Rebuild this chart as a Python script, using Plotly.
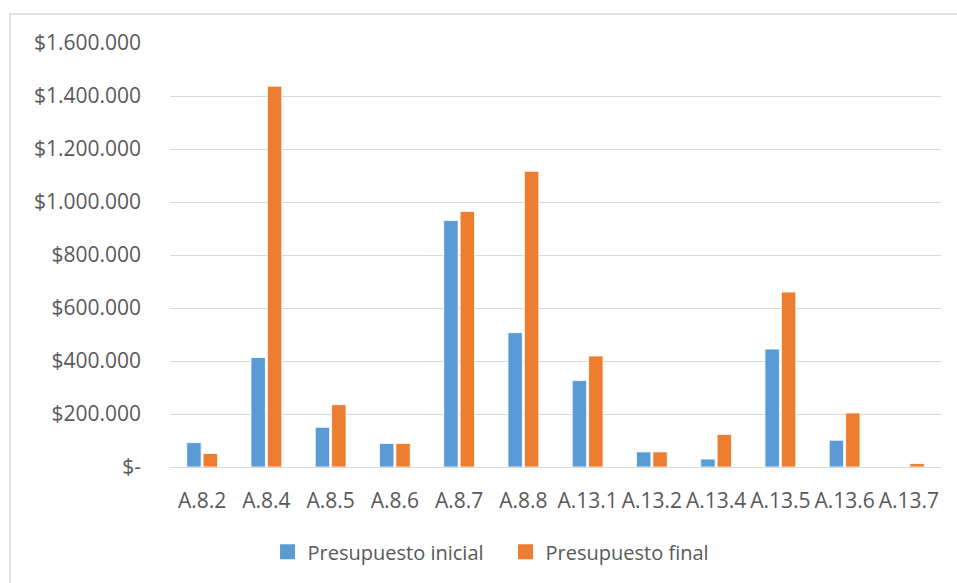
import plotly.graph_objects as go

categories = ["A.8.2", "A.8.4", "A.8.5", "A.8.6", "A.8.7", "A.8.8",
              "A.13.1", "A.13.2", "A.13.4", "A.13.5", "A.13.6", "A.13.7"]
presupuesto_inicial = [92000, 413000, 150000, 89000, 930000, 507000,
                       326000, 57000, 30000, 445000, 101000, 0]
presupuesto_final = [51000, 1437000, 235000, 89000, 964000, 1116000,
                     419000, 57000, 123000, 660000, 204000, 13000]
y_tick_values = [0, 200000, 400000, 600000, 800000, 1000000, 1200000, 1400000, 1600000]
y_tick_labels = ["$-", "$200.000", "$400.000", "$600.000", "$800.000",
                 "$1.000.000", "$1.200.000", "$1.400.000", "$1.600.000"]

BLUE = "#5B9BD5"
ORANGE = "#ED7D31"
TEXT = "#595959"
GRID = "#D9D9D9"
FONT = "'Open Sans', sans-serif"
FS = 21

fig = go.Figure()
fig.add_trace(go.Bar(x=categories, y=presupuesto_inicial, name="Presupuesto inicial",
                     showlegend=False,
                     marker=dict(color=BLUE, line=dict(color="white", width=0.8))))
fig.add_trace(go.Bar(x=categories, y=presupuesto_final, name="Presupuesto final",
                     showlegend=False,
                     marker=dict(color=ORANGE, line=dict(color="white", width=0.8))))
# legend entries with square swatches
for name, color in [("Presupuesto inicial", BLUE), ("Presupuesto final", ORANGE)]:
    fig.add_trace(go.Scatter(x=[None], y=[None], mode="markers", name=name,
                             marker=dict(symbol="square", size=15, color=color)))

fig.update_layout(
    width=957, height=583,
    margin=dict(l=170, r=16, t=43, b=116),
    paper_bgcolor="white", plot_bgcolor="white",
    barmode="group", bargap=0.49, bargroupgap=0.12,
    font=dict(family=FONT, color=TEXT, size=FS),
    showlegend=True,
    legend=dict(orientation="h", x=0.1265, xanchor="left", y=-0.2, yanchor="middle",
                font=dict(size=20, color=TEXT), entrywidth=193, entrywidthmode="pixels",
                traceorder="normal", itemwidth=30),
    xaxis=dict(showgrid=False, showline=False, ticks="", tickfont=dict(size=FS, color=TEXT),
               ticklabelstandoff=19),
    yaxis=dict(range=[0, 1600000], tickvals=y_tick_values, ticktext=y_tick_labels,
               showgrid=True, gridcolor=GRID, gridwidth=1.3, zeroline=True,
               zerolinecolor=GRID, zerolinewidth=1.3, showline=False, ticks="",
               tickfont=dict(size=FS, color=TEXT), ticklabelstandoff=28),
    shapes=[dict(type="rect", xref="paper", yref="paper",
                 x0=(10 - 170) / 771, x1=(960 - 170) / 771,
                 y0=(467 - 590) / 424, y1=(467 - 14) / 424,
                 line=dict(color=GRID, width=1.5), fillcolor="rgba(0,0,0,0)", layer="below")],
)

fig.write_html("out.html")
